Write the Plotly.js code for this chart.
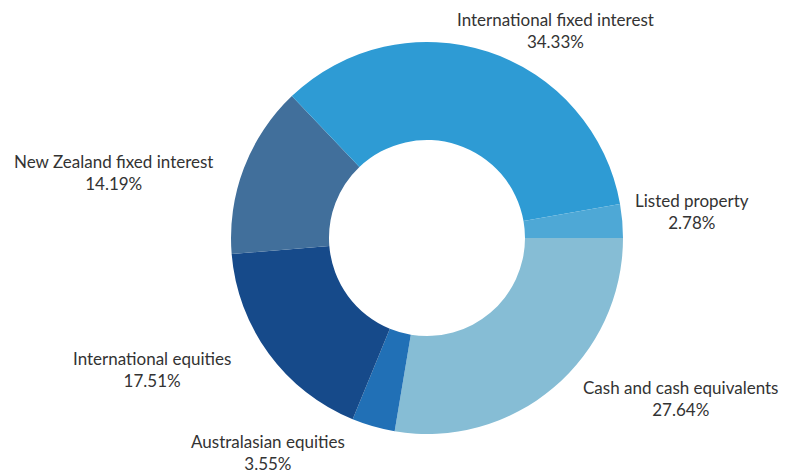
<!DOCTYPE html>
<html>
<head>
<meta charset="utf-8">
<script src="https://cdn.plot.ly/plotly-3.0.1.min.js"></script>
<style>html,body{margin:0;padding:0;background:#fff;}#chart{width:796px;height:473px;}</style>
</head>
<body>
<div id="chart"></div>
<script>
// Data
const categories = ["Cash and cash equivalents", "Australasian equities", "International equities", "New Zealand fixed interest", "International fixed interest", "Listed property"];
const values = [27.64, 3.55, 17.51, 14.19, 34.33, 2.78];
const percentLabels = ["27.64%", "3.55%", "17.51%", "14.19%", "34.33%", "2.78%"];

// Styles / layout (not data)
const colors = ["#86bdd5", "#2170b6", "#164a8a", "#416f9b", "#2e9bd4", "#4ea8d6"];
const labelPos = [
  [680, 398], [268, 452], [152, 369], [113, 172], [555, 30], [692, 212]
];
const W = 796, H = 473;

const annotations = categories.map((c, i) => ({
  xref: 'paper', yref: 'paper',
  x: labelPos[i][0] / W, y: 1 - labelPos[i][1] / H,
  xanchor: 'center', yanchor: 'middle',
  text: c + '<br>' + percentLabels[i],
  showarrow: false,
  align: 'center',
  font: {family: 'Lato, "Open Sans", sans-serif', size: 17, color: '#333333'}
}));

const cx = 427, cy = 238, R = 196;
const trace = {
  type: 'pie',
  labels: categories,
  values: values,
  sort: false,
  direction: 'clockwise',
  rotation: 90,
  hole: 0.5,
  textinfo: 'none',
  marker: {colors: colors, line: {width: 0}},
  domain: {x: [(cx - R) / W, (cx + R) / W], y: [1 - (cy + R) / H, 1 - (cy - R) / H]},
  showlegend: false
};

Plotly.newPlot('chart', [trace], {
  width: W, height: H,
  margin: {l: 0, r: 0, t: 0, b: 0},
  paper_bgcolor: '#ffffff',
  showlegend: false,
  annotations: annotations
}, {displayModeBar: false, staticPlot: true});
</script>
</body>
</html>
